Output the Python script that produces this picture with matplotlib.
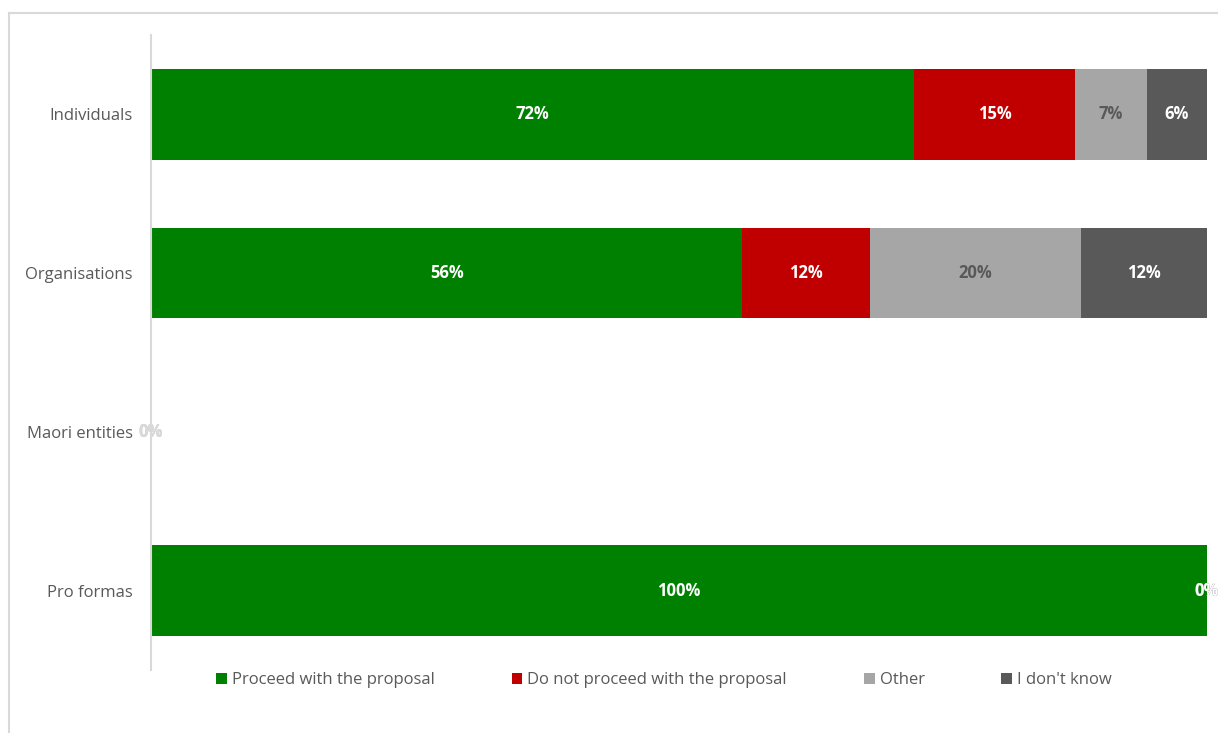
import matplotlib.pyplot as plt
from matplotlib.lines import Line2D
from matplotlib.patches import Patch

categories = ['Individuals', 'Organisations', 'Maori entities', 'Pro formas']
series = ['Proceed with the proposal', 'Do not proceed with the proposal', 'Other', "I don't know"]
proceed = [72.3, 56.0, 0, 100]
not_proceed = [15.2, 12.1, 0, 0]
other = [6.8, 20.0, 0, 0]
dont_know = [5.7, 11.9, 0, 0]

colors = ['#008000', '#C00000', '#A6A6A6', '#595959']
label_colors = ['white', 'white', '#595959', 'white']

plt.rcParams['font.family'] = ['Open Sans', 'DejaVu Sans']

fig = plt.figure(figsize=(12.18, 7.33), dpi=100)
ax = fig.add_axes([151 / 1218, 1 - 670 / 733, 1056 / 1218, (670 - 35) / 733])

# outer chart frame (left and top edges only visible)
fig.add_artist(Line2D([9 / 1218, 9 / 1218], [0, 1 - 13 / 733], color='#D9D9D9', lw=1.5))
fig.add_artist(Line2D([9 / 1218, 1], [1 - 13 / 733, 1 - 13 / 733], color='#D9D9D9', lw=1.5))

ypos = list(range(len(categories)))
data = [proceed, not_proceed, other, dont_know]
left = [0] * len(categories)
for vals, col, lcol in zip(data, colors, label_colors):
    ax.barh(ypos, vals, left=left, height=0.57, color=col, edgecolor='none')
    for i, v in enumerate(vals):
        x = left[i] + v / 2
        if v == 0:
            # zero labels pile up at the end of the row
            x = left[i]
            c = '#D9D9D9' if left[i] == 0 else lcol
        else:
            c = lcol
        ax.text(x, i, f'{round(v)}%', ha='center', va='center', color=c,
                fontsize=12, fontweight='bold')
    left = [l + v for l, v in zip(left, vals)]

ax.set_xlim(0, 100)
ax.set_ylim(3.5, -0.5)
ax.set_yticks(ypos)
ax.set_yticklabels(categories, fontsize=12, color='#595959')
ax.tick_params(axis='y', length=0, pad=13)
ax.set_xticks([])
for s in ['top', 'right', 'bottom']:
    ax.spines[s].set_visible(False)
ax.spines['left'].set_color('#D9D9D9')
ax.spines['left'].set_linewidth(1.5)

handles = [Patch(facecolor=c, edgecolor='none') for c in colors]
leg = fig.legend(handles, series, loc='center', bbox_to_anchor=(664 / 1218, 1 - 680 / 733),
                 ncol=4, frameon=False, fontsize=12, handlelength=0.65, handleheight=0.65,
                 handletextpad=0.3, columnspacing=4.6)
for t in leg.get_texts():
    t.set_color('#595959')

fig.savefig('out.png', dpi=100)
